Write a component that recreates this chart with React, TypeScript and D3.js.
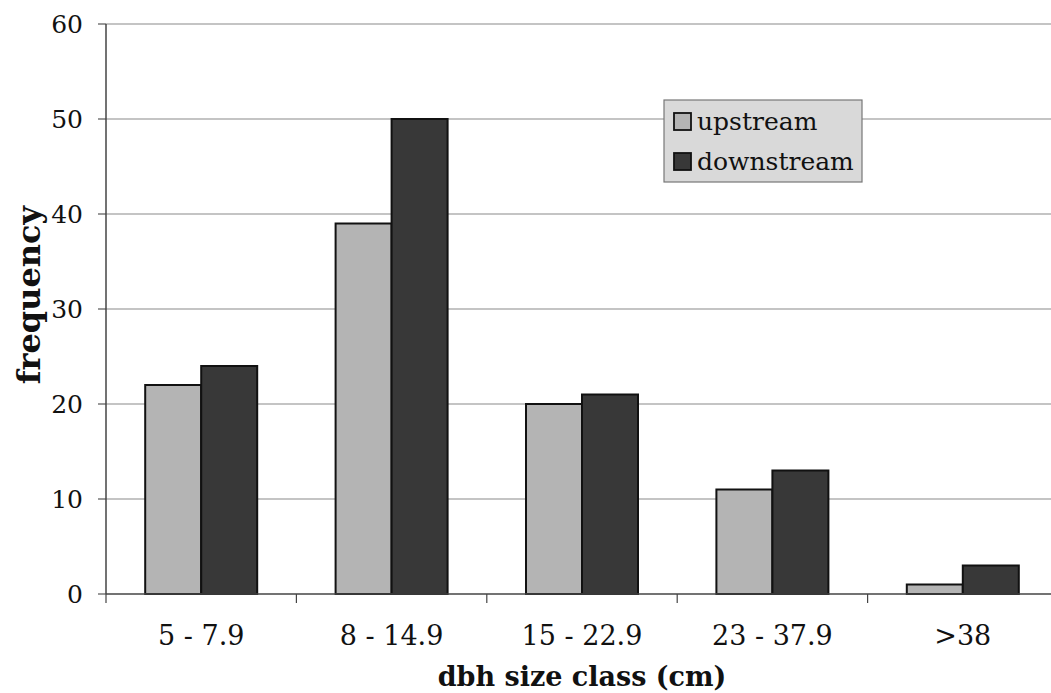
import React from "react";
import * as d3 from "d3";

const categories = ["5 - 7.9", "8 - 14.9", "15 - 22.9", "23 - 37.9", ">38"];
const seriesNames = ["upstream", "downstream"];
const upstream = [22, 39, 20, 11, 1];
const downstream = [24, 50, 21, 13, 3];
const yTicks = [0, 10, 20, 30, 40, 50, 60];

const W = 1051;
const H = 693;
const left = 106;
const right = 1058;
const top = 24;
const bottom = 594;
const colors = ["#b4b4b4", "#383838"];
const font = "'DejaVu Serif', Georgia, serif";

export default function App() {
  const x = d3.scaleBand<string>().domain(categories).range([left, right]).paddingInner(0).paddingOuter(0);
  const y = d3.scaleLinear().domain([0, 60]).range([bottom, top]);
  const groupW = 112;
  const x1 = d3.scaleBand<string>().domain(seriesNames).range([0, groupW]);
  const series = [upstream, downstream];

  return (
    <svg width={W} height={H} style={{ position: "absolute", left: 0, top: 0, background: "#fff" }}>
      {yTicks.map((t) => (
        <g key={t}>
          {t > 0 && <line x1={left} x2={right} y1={y(t)} y2={y(t)} stroke="#8a8a8a" strokeWidth={1.2} />}
          <line x1={left - 8} x2={left} y1={y(t)} y2={y(t)} stroke="#555" strokeWidth={1.2} />
          <text x={83} y={y(t)} dy="0.36em" textAnchor="end" fontFamily={font} fontSize={25} fill="#111">
            {t}
          </text>
        </g>
      ))}
      {categories.map((c, i) =>
        series.map((s, j) => {
          const bx = (x(c) as number) + (x.bandwidth() - groupW) / 2 + (x1(seriesNames[j]) as number);
          return (
            <rect
              key={c + j}
              x={bx}
              y={y(s[i])}
              width={x1.bandwidth()}
              height={y(0) - y(s[i])}
              fill={colors[j]}
              stroke="#111"
              strokeWidth={2}
            />
          );
        })
      )}
      <line x1={left} x2={left} y1={top} y2={bottom} stroke="#444" strokeWidth={1.5} />
      <line x1={left} x2={right} y1={bottom} y2={bottom} stroke="#444" strokeWidth={1.5} />
      {categories.map((c, i) => (
        <line key={"t" + i} x1={x(c) as number} x2={x(c) as number} y1={bottom} y2={bottom + 9} stroke="#444" strokeWidth={1.2} />
      ))}
      {categories.map((c) => (
        <text
          key={"l" + c}
          x={(x(c) as number) + x.bandwidth() / 2}
          y={645}
          textAnchor="middle"
          fontFamily={font}
          fontSize={27}
          fill="#111"
        >
          {c}
        </text>
      ))}
      <text x={582} y={686} textAnchor="middle" fontFamily={font} fontWeight="bold" fontSize={27} fill="#111">
        dbh size class (cm)
      </text>
      <text
        transform={`translate(40,295) rotate(-90)`}
        textAnchor="middle"
        fontFamily={font}
        fontWeight="bold"
        fontSize={32}
        fill="#111"
      >
        frequency
      </text>
      <g>
        <rect x={664} y={100} width={198} height={82} fill="#d9d9d9" stroke="#777" strokeWidth={1.2} />
        {seriesNames.map((n, j) => (
          <g key={n}>
            <rect x={674} y={113 + j * 40} width={17} height={17} fill={colors[j]} stroke="#111" strokeWidth={1.8} />
            <text x={697} y={130 + j * 40} fontFamily={font} fontSize={25} fill="#111">
              {n}
            </text>
          </g>
        ))}
      </g>
    </svg>
  );
}
